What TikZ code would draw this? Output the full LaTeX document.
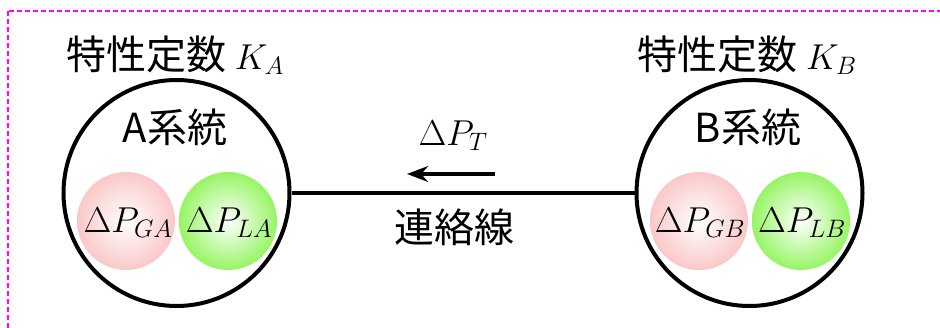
\RequirePackage{fix-cm}
\documentclass[tikz,border=0pt]{standalone}
\usepackage{fontspec}
\newfontfamily\jp{Noto Sans CJK JP}
\usetikzlibrary{arrows.meta}
\definecolor{framepink}{RGB}{255,0,255}
\definecolor{genpink}{RGB}{250,200,200}
\definecolor{loadgreen}{RGB}{150,245,100}
\begin{document}
\begin{tikzpicture}[x=1pt,y=-1pt,>=Stealth,
  jptext/.style={font=\jp\fontsize{40}{48}\selectfont,inner sep=0pt,anchor=base},
  mathtext/.style={font=\fontsize{36}{42}\selectfont,inner sep=0pt,anchor=base},
  syscircle/.style={draw,circle,line width=4pt,minimum size=226pt,inner sep=0pt},
  ball/.style={circle,minimum size=98pt,inner sep=0pt,shading=radial,inner color=white}]
\useasboundingbox (0,0) rectangle (940,327);
\draw[framepink,line width=2pt,dash pattern=on 5pt off 3pt] (8,11) rectangle (960,350);
\node[syscircle] (sysA) at (176.5,193) {};
\node[syscircle] (sysB) at (749.5,193) {};
\draw[line width=4pt] (sysA) -- (sysB);
\node[ball,outer color=genpink] (gA) at (126,221) {};
\node[ball,outer color=loadgreen] (lA) at (228,221) {};
\node[ball,outer color=genpink] (gB) at (699,221) {};
\node[ball,outer color=loadgreen] (lB) at (801,221) {};
\node[mathtext] (tgA) at (128,232) {$\Delta P_{GA}$};
\node[mathtext] (tlA) at (229,232) {$\Delta P_{LA}$};
\node[mathtext] (tgB) at (700,232) {$\Delta P_{GB}$};
\node[mathtext] (tlB) at (802,232) {$\Delta P_{LB}$};
\node[jptext] (kA) at (175,69) {特性定数 \fontsize{36}{42}\selectfont$K_A$};
\node[jptext] (kB) at (747,69) {特性定数 \fontsize{36}{42}\selectfont$K_B$};
\node[jptext] (nA) at (175,142) {A系統};
\node[jptext] (nB) at (748,142) {B系統};
\node[mathtext] (pT) at (453,145) {$\Delta P_T$};
\node[jptext] (tie) at (454,242) {連絡線};
\coordinate (arrS) at (495,174);
\coordinate (arrE) at (407,174);
\draw[->,line width=4pt] (arrS) -- (arrE);
\end{tikzpicture}
\end{document}
